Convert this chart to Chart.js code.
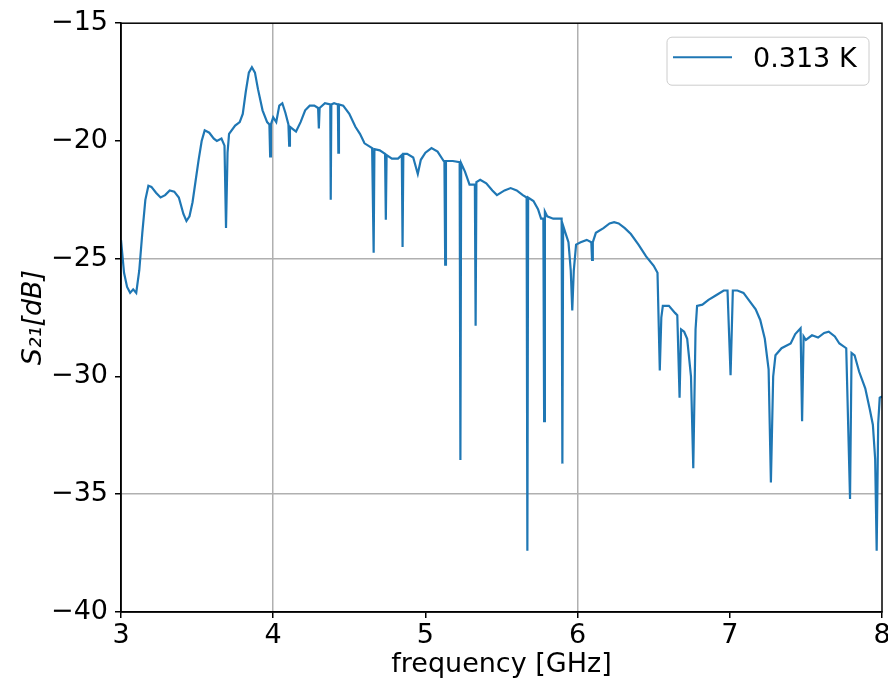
<!DOCTYPE html>
<html>
<head>
<meta charset="utf-8">
<script src="https://cdn.jsdelivr.net/npm/chart.js@4.4.0/dist/chart.umd.min.js"></script>
<style>
  html, body { margin: 0; padding: 0; background: #fff; }
  #wrap { width: 888px; height: 681px; }
</style>
</head>
<body>
<div id="wrap"><canvas id="s21"></canvas></div>
<script>
// S21 transmission vs frequency
const freqGHz = [
  3.00, 3.02, 3.04, 3.06, 3.08, 3.10, 3.12, 3.14, 3.16, 3.18,
  3.20, 3.23, 3.26, 3.29, 3.32, 3.35, 3.38, 3.41, 3.43, 3.45,
  3.47, 3.49, 3.51, 3.53, 3.55, 3.58, 3.61, 3.63, 3.66, 3.68,
  3.69, 3.70, 3.71, 3.75, 3.78, 3.80, 3.82, 3.84, 3.86, 3.88,
  3.90, 3.93, 3.96, 3.975, 3.98, 3.985, 4.00, 4.02, 4.04, 4.06,
  4.08, 4.10, 4.105, 4.11, 4.15, 4.18, 4.21, 4.24, 4.27, 4.295,
  4.30, 4.305, 4.34, 4.375, 4.378, 4.382, 4.40, 4.425, 4.428, 4.432,
  4.46, 4.50, 4.54, 4.57, 4.60, 4.65, 4.655, 4.66, 4.665, 4.70,
  4.735, 4.74, 4.745, 4.78, 4.82, 4.845, 4.85, 4.855, 4.88, 4.92,
  4.95, 4.97, 5.00, 5.04, 5.08, 5.12, 5.125, 5.13, 5.135, 5.18,
  5.225, 5.23, 5.235, 5.26, 5.29, 5.325, 5.33, 5.335, 5.36, 5.40,
  5.44, 5.47, 5.52, 5.56, 5.60, 5.64, 5.665, 5.67, 5.675, 5.71,
  5.74, 5.76, 5.775, 5.78, 5.785, 5.80, 5.84, 5.89, 5.895, 5.90,
  5.905, 5.92, 5.94, 5.955, 5.965, 5.975, 5.99, 6.02, 6.06, 6.09,
  6.095, 6.10, 6.12, 6.17, 6.21, 6.24, 6.27, 6.31, 6.35, 6.40,
  6.45, 6.50, 6.525, 6.54, 6.55, 6.56, 6.60, 6.64, 6.655, 6.67,
  6.68, 6.70, 6.72, 6.745, 6.76, 6.775, 6.785, 6.82, 6.86, 6.91,
  6.96, 6.985, 7.005, 7.02, 7.05, 7.09, 7.13, 7.17, 7.20, 7.23,
  7.255, 7.27, 7.285, 7.30, 7.34, 7.40, 7.43, 7.465, 7.475, 7.485,
  7.50, 7.54, 7.58, 7.62, 7.65, 7.69, 7.72, 7.765, 7.79, 7.80,
  7.82, 7.85, 7.89, 7.92, 7.94, 7.955, 7.965, 7.975, 7.985, 8.00
];
const s21dB = [
  -24.2, -25.6, -26.2, -26.45, -26.3, -26.45, -25.5, -23.9, -22.5, -21.9,
  -21.95, -22.2, -22.4, -22.3, -22.1, -22.15, -22.4, -23.1, -23.4, -23.2,
  -22.6, -21.7, -20.8, -20.0, -19.55, -19.65, -19.9, -20.0, -19.9, -20.2,
  -23.7, -20.5, -19.7, -19.35, -19.2, -18.85, -17.9, -17.1, -16.87, -17.1,
  -17.8, -18.7, -19.2, -19.3, -20.66, -19.3, -19.0, -19.2, -18.5, -18.4,
  -18.8, -19.3, -20.2, -19.4, -19.6, -19.2, -18.7, -18.5, -18.5, -18.6,
  -19.47, -18.6, -18.4, -18.45, -22.5, -18.45, -18.4, -18.45, -20.5, -18.45,
  -18.5, -18.85, -19.4, -19.7, -20.1, -20.3, -20.3, -24.75, -20.35, -20.4,
  -20.55, -23.35, -20.6, -20.75, -20.75, -20.6, -24.5, -20.55, -20.55, -20.7,
  -21.4, -20.8, -20.5, -20.3, -20.45, -20.85, -20.85, -25.25, -20.85, -20.85,
  -20.9, -33.55, -20.95, -21.3, -21.85, -21.85, -27.85, -21.75, -21.65, -21.8,
  -22.1, -22.3, -22.1, -22.0, -22.1, -22.3, -22.4, -37.4, -22.4, -22.55,
  -22.9, -23.3, -23.3, -31.9, -23.0, -23.2, -23.3, -23.3, -23.3, -33.7,
  -23.6, -23.9, -24.3, -25.5, -27.2, -25.5, -24.4, -24.3, -24.2, -24.3,
  -25.05, -24.3, -23.9, -23.7, -23.5, -23.45, -23.5, -23.7, -23.95, -24.4,
  -24.9, -25.3, -25.6, -29.75, -27.5, -27.0, -27.0, -27.3, -27.4, -30.9,
  -28.0, -28.1, -28.4, -30.0, -33.9, -28.0, -27.0, -26.95, -26.75, -26.55,
  -26.35, -26.35, -29.95, -26.35, -26.35, -26.45, -26.8, -27.15, -27.6, -28.4,
  -29.7, -34.5, -30.0, -29.1, -28.8, -28.6, -28.2, -27.95, -31.9, -28.3,
  -28.45, -28.25, -28.35, -28.15, -28.1, -28.3, -28.6, -28.8, -35.2, -29.0,
  -29.1, -29.8, -30.5, -31.4, -32.05, -33.5, -37.4, -32.0, -30.9, -30.85
];
const seriesLabel = "0.313 K";
const xGridAt = [4, 6];
const yGridAt = [-25, -35];

const points = freqGHz.map((f, i) => ({ x: f, y: s21dB[i] }));

const FONT = "'DejaVu Sans', sans-serif";
const FS = 27;
const minus = (v) => String(v).replace("-", "\u2212");

// рамка вокруг области графика + легенда внутри
const framePlugin = {
  id: "frame",
  afterDraw(chart) {
    const { ctx, chartArea: a } = chart;
    ctx.save();
    ctx.strokeStyle = "#000";
    ctx.lineWidth = 1.5;
    ctx.strokeRect(a.left, a.top, a.right - a.left, a.bottom - a.top);

    // легенда
    const bx = a.right - 215, by = a.top + 14, bw = 202, bh = 48;
    ctx.beginPath();
    ctx.roundRect(bx, by, bw, bh, 5);
    ctx.fillStyle = "rgba(255,255,255,0.8)";
    ctx.fill();
    ctx.strokeStyle = "#cccccc";
    ctx.lineWidth = 1;
    ctx.stroke();

    const ds = chart.data.datasets[0];
    ctx.beginPath();
    ctx.moveTo(bx + 6, by + 20);
    ctx.lineTo(bx + 65, by + 20);
    ctx.strokeStyle = ds.borderColor;
    ctx.lineWidth = 2;
    ctx.stroke();

    ctx.fillStyle = "#000";
    ctx.font = FS + "px " + FONT;
    ctx.textBaseline = "middle";
    ctx.textAlign = "left";
    ctx.fillText(ds.label, bx + 86, by + 23);
    ctx.restore();
  },
};

const ctx = document.getElementById("s21").getContext("2d");
new Chart(ctx, {
  type: "line",
  data: {
    datasets: [
      {
        label: seriesLabel,
        data: points,
        borderColor: "#1f77b4",
        borderWidth: 2.2,
        pointRadius: 0,
        tension: 0,
        fill: false,
      },
    ],
  },
  options: {
    responsive: true,
    maintainAspectRatio: false,
    animation: false,
    layout: { autoPadding: false, padding: { top: 19, right: 6, left: 0, bottom: 0 } },
    plugins: {
      legend: { display: false },
      tooltip: { enabled: false },
    },
    scales: {
      x: {
        type: "linear",
        min: 3,
        max: 8,
        afterFit: (s) => { s.height = 69; s.paddingRight = 0; },
        ticks: {
          stepSize: 1,
          color: "#000",
          padding: 2,
          font: { family: FONT, size: FS },
          callback: (v) => minus(v),
        },
        grid: {
          color: (c) => (c.tick && xGridAt.includes(c.tick.value) ? "#b0b0b0" : "rgba(0,0,0,0)"),
          lineWidth: 1.5,
          tickColor: "#000",
          tickLength: 6,
          tickWidth: 1.5,
        },
        border: { display: true, color: "#000", width: 1.5 },
        title: {
          display: true,
          text: "frequency [GHz]",
          color: "#000",
          font: { family: FONT, size: FS },
          padding: { top: 0, bottom: 0 },
        },
      },
      y: {
        min: -40,
        max: -15,
        afterFit: (s) => { s.width = 121; },
        ticks: {
          stepSize: 5,
          color: "#000",
          padding: 7,
          font: { family: FONT, size: FS },
          callback: (v) => minus(v),
        },
        grid: {
          color: (c) => (c.tick && yGridAt.includes(c.tick.value) ? "#b0b0b0" : "rgba(0,0,0,0)"),
          lineWidth: 1.5,
          tickColor: "#000",
          tickLength: 6,
          tickWidth: 1.5,
        },
        border: { display: true, color: "#000", width: 1.5 },
        title: {
          display: true,
          text: "S\u2082\u2081[dB]",
          color: "#000",
          font: { family: FONT, size: FS, style: "italic" },
          padding: { top: 18, bottom: 0 },
        },
      },
    },
  },
  plugins: [framePlugin],
});
</script>
</body>
</html>
